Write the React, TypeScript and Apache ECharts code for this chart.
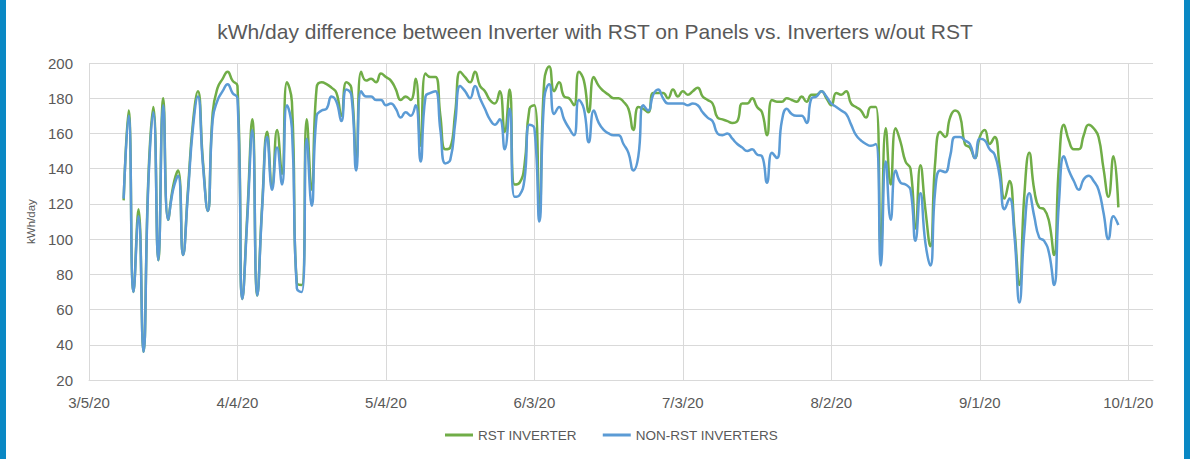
import React, { useEffect, useRef } from "react";
import * as echarts from "echarts";

// Days are counted from 3/5/20 (day 0). First data point is day 7 (3/12/20).
const startDateUTC = Date.UTC(2020, 2, 5);
const firstDay = 7;
const xTickDays = [0, 30, 60, 90, 120, 150, 180, 210];

const rstInverter = [
  122, 173, 70, 117, 36, 135, 175, 88, 180, 111,
  130, 139, 91, 128, 166, 184, 145, 116, 172, 186,
  191, 195, 190, 187, 66, 115, 168, 68, 120, 161,
  130, 162, 137, 189, 178, 75, 74, 168, 128, 186,
  189, 188, 186, 183, 170, 189, 186, 144, 195, 190,
  191, 189, 194, 192, 190, 185, 179, 181, 179, 191,
  153, 194, 192, 192, 170, 151, 152, 172, 195, 192,
  189, 195, 187, 184, 179, 177, 184, 161, 185, 131,
  132, 142, 174, 176, 115, 190, 198, 184, 189, 181,
  180, 176, 195, 190, 172, 192, 187, 184, 182, 180,
  180, 178, 174, 162, 175, 174, 172, 183, 183, 183,
  180, 185, 181, 184, 182, 184, 186, 181, 179, 177,
  169, 168, 167, 166, 167, 177, 177, 180, 175, 172,
  159, 179, 178, 178, 180, 179, 178, 181, 178, 182,
  182, 184, 180, 176, 183, 182, 184, 177, 175, 173,
  169, 175, 175, 95, 163, 131, 163, 155, 144, 140,
  106, 142, 117, 96, 144, 161, 158, 169, 173, 170,
  154, 152, 146, 158, 162, 154, 158, 142, 123, 133,
  106, 74, 125, 149, 128, 118, 117, 110, 91, 142,
  165, 156, 151, 151, 159, 165, 163, 158, 140, 124,
  147, 118,
];

const nonRstInverters = [
  123, 170, 70, 113, 36, 132, 172, 88, 176, 111,
  128, 136, 91, 126, 163, 181, 143, 116, 168, 179,
  184, 188, 183, 180, 66, 112, 162, 68, 118, 158,
  128, 152, 131, 176, 163, 72, 70, 157, 119, 170,
  173, 174, 181, 178, 167, 185, 182, 139, 184, 181,
  181, 179, 179, 176, 177, 174, 169, 172, 170, 176,
  144, 181, 183, 184, 162, 143, 145, 166, 187, 184,
  180, 187, 180, 174, 168, 165, 168, 151, 174, 124,
  125, 134, 165, 163, 110, 180, 188, 171, 175, 168,
  163, 159, 179, 174, 155, 173, 166, 162, 160, 159,
  159, 154, 149, 139, 147, 176, 173, 182, 185, 180,
  177, 177, 177, 177, 176, 177, 176, 172, 169, 167,
  160, 159, 160, 157, 154, 152, 150, 151, 148, 147,
  132, 149, 146, 167, 174, 171, 170, 170, 166, 180,
  181, 184, 181, 177, 175, 173, 171, 165, 159, 156,
  154, 153, 154, 85, 144, 111, 139, 132, 131, 128,
  99, 126, 98, 85, 128, 139, 138, 147, 158, 158,
  156, 154, 146, 157, 156, 151, 148, 136, 117, 123,
  102, 64, 104, 126, 113, 101, 99, 92, 74, 121,
  147, 139, 133, 128, 134, 136, 133, 128, 115, 100,
  113, 108,
];

const fmtDay = (v: number) => {
  const d = new Date(startDateUTC + Math.round(v) * 86400000);
  return `${d.getUTCMonth() + 1}/${d.getUTCDate()}/${String(d.getUTCFullYear()).slice(2)}`;
};

export default function App() {
  const ref = useRef<HTMLDivElement>(null);
  useEffect(() => {
    if (!ref.current) return;
    const chart = echarts.init(ref.current, undefined, { renderer: "svg" });
    const font = "'Liberation Sans', Arial, sans-serif";
    chart.setOption({
      animation: false,
      backgroundColor: "#ffffff",
      title: {
        text: "kWh/day difference between Inverter with RST on Panels vs. Inverters w/out RST",
        left: "center",
        top: 16,
        textStyle: { fontFamily: font, fontSize: 21, fontWeight: "normal", color: "#595959" },
      },
      graphic: [
        { type: "rect", left: 0, top: 0, shape: { width: 6, height: 459 }, style: { fill: "#0a88c4" } },
        { type: "rect", right: 0, top: 0, shape: { width: 6, height: 459 }, style: { fill: "#0a88c4" } },
      ],
      legend: {
        bottom: 12,
        left: 440,
        itemWidth: 28,
        itemHeight: 3,
        itemGap: 26,
        icon: "rect",
        textStyle: { fontFamily: font, fontSize: 13.5, color: "#595959" },
        data: ["RST INVERTER", "NON-RST INVERTERS"],
      },
      grid: { left: 89, right: 37, top: 63, bottom: 79, containLabel: false },
      xAxis: {
        type: "value",
        min: 0,
        max: 215,
        interval: 30,
        axisLine: { show: true, lineStyle: { color: "#d9d9d9", width: 1 } },
        axisTick: { show: false },
        splitLine: { show: true, showMaxLine: false, lineStyle: { color: "#d9d9d9", width: 1 } },
        axisLabel: {
          showMaxLabel: false,
          margin: 15,
          fontFamily: font,
          fontSize: 15,
          color: "#595959",
          formatter: (v: number) => (xTickDays.includes(v) ? fmtDay(v) : ""),
        },
      },
      yAxis: {
        type: "value",
        min: 20,
        max: 200,
        interval: 20,
        name: "kWh/day",
        nameLocation: "middle",
        nameGap: 52,
        nameTextStyle: { fontFamily: font, fontSize: 11.5, color: "#595959" },
        axisLine: { show: false },
        axisTick: { show: false },
        splitLine: { show: true, lineStyle: { color: "#d9d9d9", width: 1 } },
        axisLabel: { margin: 16, fontFamily: font, fontSize: 15, color: "#595959" },
      },
      series: [
        {
          name: "RST INVERTER",
          type: "line",
          smooth: 0.5,
          showSymbol: false,
          symbol: "none",
          lineStyle: { color: "#70ad47", width: 2.5 },
          itemStyle: { color: "#70ad47" },
          data: rstInverter.map((v, i) => [firstDay + i, v]),
        },
        {
          name: "NON-RST INVERTERS",
          type: "line",
          smooth: 0.5,
          showSymbol: false,
          symbol: "none",
          lineStyle: { color: "#5b9bd5", width: 2.5 },
          itemStyle: { color: "#5b9bd5" },
          data: nonRstInverters.map((v, i) => [firstDay + i, v]),
        },
      ],
    });
    return () => chart.dispose();
  }, []);
  return (
    <div
      ref={ref}
      style={{ position: "fixed", left: 0, top: 0, width: 1190, height: 459 }}
    />
  );
}
